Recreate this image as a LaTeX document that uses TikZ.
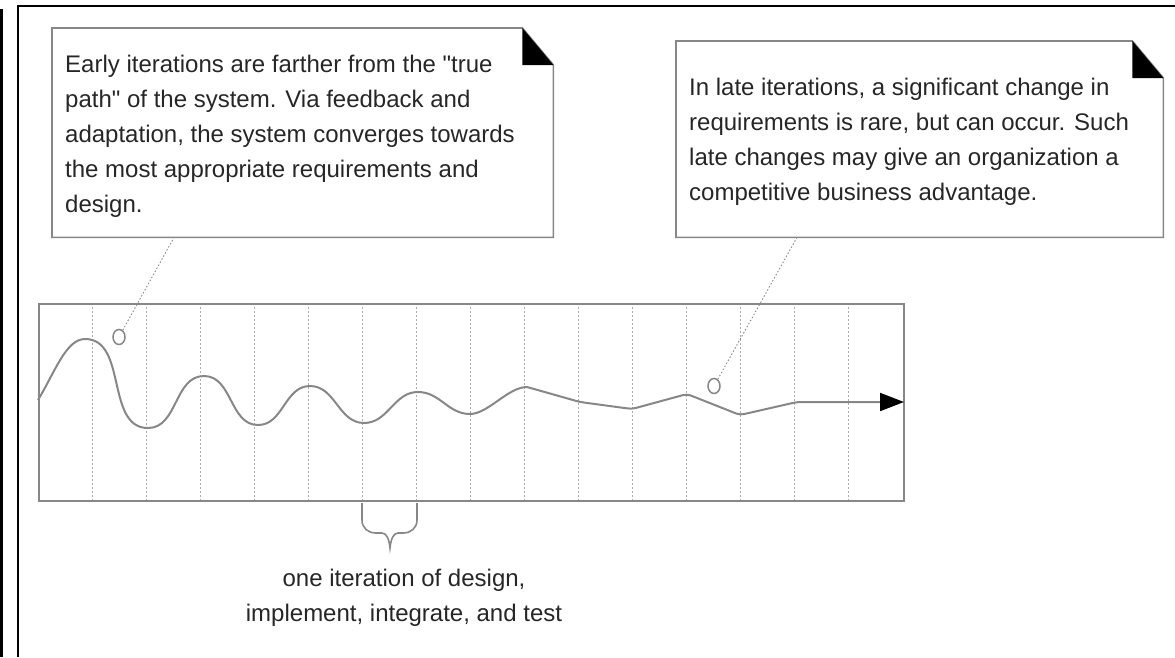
\documentclass[tikz,border=0pt]{standalone}
\usepackage{fontspec}
\setmainfont{Liberation Sans}[Ligatures=TeXOff]
\usetikzlibrary{arrows.meta, positioning, shapes.geometric}

\definecolor{linegray}{RGB}{135,135,135}
\definecolor{gridgray}{RGB}{170,170,170}

\begin{document}
\begin{tikzpicture}[x=1pt, y=-1pt,
    note/.style={anchor=north west, inner sep=0pt},
    notetext/.style={inner sep=0pt, align=left, text=black!85, font=\fontsize{24}{35}\selectfont},
    noteline/.style={draw=linegray, line width=1.6pt},
    marker/.style={ellipse, draw=linegray, line width=1.5pt, minimum width=12pt, minimum height=15pt, inner sep=0pt},
    leader/.style={draw=linegray, line width=0.9pt, dash pattern=on 1.5pt off 2pt},
    gridline/.style={draw=gridgray, line width=0.9pt, dash pattern=on 1.5pt off 2.5pt},
    wave/.style={draw=linegray, line width=2pt},
    braceline/.style={draw=linegray, line width=1.6pt},
    ]
    \useasboundingbox (0,0) rectangle (1175,657);

    % Frame
    \draw[line width=3pt] (1.5,9) -- (1.5,657);
    \draw[line width=2.4pt] (18,657) -- (18,6) -- (1175,6);

    % Define the notes
    \node[note, minimum width=501pt, minimum height=209pt] (early) at (52,28) {};
    \node[note, minimum width=487pt, minimum height=196pt] (late) at (676,41) {};
    \foreach \n in {early, late} {
        \draw[noteline] (\n.north west) -- ([xshift=-31pt]\n.north east) -- ([yshift=-37pt]\n.north east)
            -- (\n.south east) -- (\n.south west) -- cycle;
        \fill ([xshift=-31pt]\n.north east) -- ([xshift=-31pt, yshift=-37pt]\n.north east)
            -- ([yshift=-37pt]\n.north east) -- cycle;
    }
    \node[notetext, below right=26.5pt and 13pt of early.north west] (early text)
        {Early iterations are farther from the "true\\path" of the system. Via feedback and\\adaptation, the system converges towards\\the most appropriate requirements and\\design.};
    \node[notetext, below right=36.5pt and 13pt of late.north west] (late text)
        {In late iterations, a significant change in\\requirements is rare, but can occur. Such\\late changes may give an organization a\\competitive business advantage.};

    % Define the chart
    \foreach \i in {1,...,15}
        \draw[gridline] (38+54.0625*\i,303) -- (38+54.0625*\i,500);
    \node[draw=linegray, line width=2.2pt, minimum width=865pt, minimum height=197pt,
        anchor=north west, inner sep=0pt] (chart) at (38,303) {};

    % The path of the system
    \draw[wave, -{Triangle[length=24pt, width=18pt, black]}] (38,400)
        .. controls (55,372) and (66,339) .. (85,339)
        to[out=0, in=180] (148,428)
        to[out=0, in=180] (204,376)
        to[out=0, in=180] (258,425)
        to[out=0, in=180] (310,386)
        to[out=0, in=180] (364,423)
        to[out=0, in=180] (418,392)
        to[out=0, in=180] (470,414)
        .. controls (488,414) and (508,387) .. (527,387)
        [rounded corners=4pt] -- (580,402) -- (632,409) -- (687,394) -- (740,415) -- (797,402) -- (904,402);

    % Markers and leaders
    \node[marker] (early mark) at (119,337) {};
    \node[marker] (late mark) at (714,386) {};
    \coordinate (early tail) at ([xshift=122pt]early.south west);
    \coordinate (late tail) at ([xshift=121pt]late.south west);
    \draw[leader] (early mark) -- (early tail);
    \draw[leader] (late mark) -- (late tail);

    % One iteration
    \coordinate (brace tip) at (390,548);
    \draw[braceline] (362,503) -- (362,520) .. controls (362,528) and (368,533) .. (376,533) -- (382,533)
        .. controls (386,533) and (389,538) .. (brace tip)
        .. controls (391,538) and (394,533) .. (398,533) -- (403,533)
        .. controls (411,533) and (417,528) .. (417,520) -- (417,503);
    \node[notetext, align=center, below=20.5pt of brace tip, xshift=14pt] (iteration)
        {one iteration of design,\\implement, integrate, and test};
\end{tikzpicture}
\end{document}
